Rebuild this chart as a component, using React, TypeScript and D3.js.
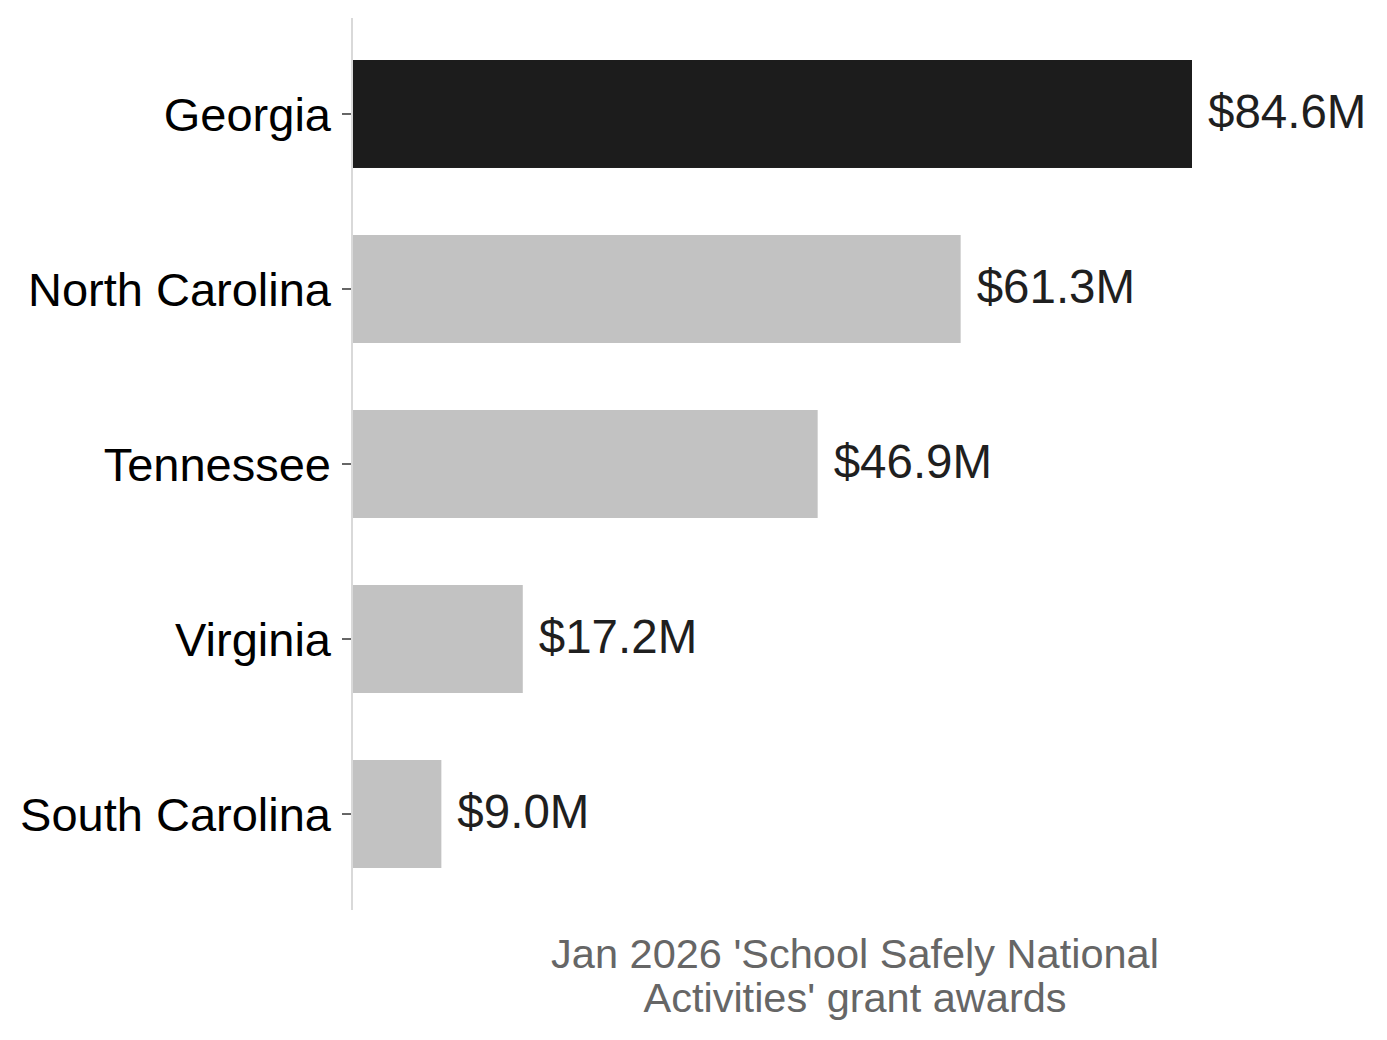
import * as d3 from "d3";
import { useEffect, useRef } from "react";

// Data
const states = ["Georgia", "North Carolina", "Tennessee", "Virginia", "South Carolina"];
const awards = [84.6, 61.3, 46.9, 17.2, 9.0]; // $M
const highlight = "Georgia";
const captionLines = ["Jan 2026 'School Safely National", "Activities' grant awards"];

const App: React.FC = () => {
  const ref = useRef<SVGSVGElement>(null);

  const width = 1387;
  const height = 1040;
  const font = "'Liberation Sans', Arial, Helvetica, sans-serif";

  useEffect(() => {
    if (!ref.current) return;
    const svg = d3.select(ref.current);
    svg.selectAll("*").remove();

    const rows = states.map((s, i) => ({ state: s, value: awards[i] }));

    // Scales
    const y = d3
      .scaleBand<string>()
      .domain(states)
      .range([18, 910])
      .paddingInner(0.383)
      .paddingOuter(0.24);

    const x = d3
      .scaleLinear()
      .domain([0, d3.max(awards) as number])
      .range([352, 1192]);

    // Bars
    svg
      .append("g")
      .selectAll("rect")
      .data(rows)
      .enter()
      .append("rect")
      .attr("x", x(0))
      .attr("y", (d) => y(d.state) as number)
      .attr("width", (d) => x(d.value) - x(0))
      .attr("height", y.bandwidth())
      .attr("fill", (d) => (d.state === highlight ? "#1c1c1c" : "#c2c2c2"));

    // Y axis line
    svg
      .append("line")
      .attr("x1", 352)
      .attr("x2", 352)
      .attr("y1", 18)
      .attr("y2", 910)
      .attr("stroke", "#d9d9d9")
      .attr("stroke-width", 2);

    // Ticks + labels
    const ticks = svg
      .append("g")
      .selectAll("g")
      .data(states)
      .enter()
      .append("g")
      .attr("transform", (d) => `translate(0, ${(y(d) as number) + y.bandwidth() / 2})`);

    ticks
      .append("line")
      .attr("x1", 342)
      .attr("x2", 351)
      .attr("stroke", "#333333")
      .attr("stroke-width", 1.5);

    ticks
      .append("text")
      .attr("x", 331)
      .attr("dy", "0.37em")
      .attr("text-anchor", "end")
      .style("font-family", font)
      .style("font-size", "47px")
      .style("fill", "#000000")
      .text((d) => d);

    // Value labels
    svg
      .append("g")
      .selectAll("text")
      .data(rows)
      .enter()
      .append("text")
      .attr("x", (d) => x(d.value) + 16)
      .attr("y", (d) => (y(d.state) as number) + y.bandwidth() / 2 - 3)
      .attr("dy", "0.35em")
      .style("font-family", font)
      .style("font-size", "47.5px")
      .style("fill", "#1f1f1f")
      .text((d) => `$${d.value.toFixed(1)}M`);

    // Caption under the plot
    svg
      .append("g")
      .selectAll("text")
      .data(captionLines)
      .enter()
      .append("text")
      .attr("x", 855)
      .attr("y", (_d, i) => 968 + i * 44)
      .attr("text-anchor", "middle")
      .style("font-family", font)
      .style("font-size", "41.5px")
      .style("fill", "#666666")
      .text((d) => d);
  }, []);

  return (
    <svg
      ref={ref}
      width={width}
      height={height}
      style={{ display: "block", position: "absolute", left: 0, top: 0, background: "#ffffff" }}
    ></svg>
  );
};

export default App;
